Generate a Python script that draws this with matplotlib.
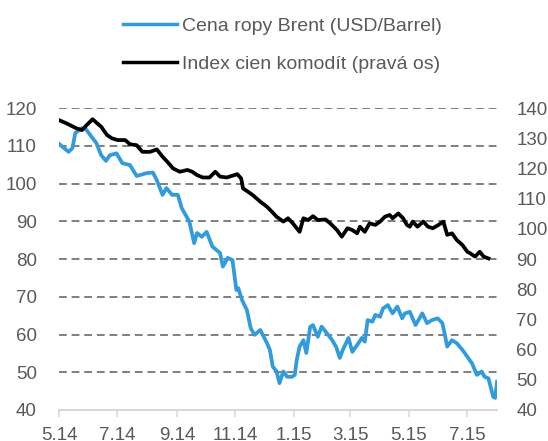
import matplotlib
matplotlib.use('Agg')
import matplotlib.pyplot as plt
import pandas as pd

plt.rcParams['font.family'] = ['Liberation Sans', 'DejaVu Sans']

# Brent oil price (USD/barrel), left axis
brent_dates = [
    '2014-05-01', '2014-05-11', '2014-05-15', '2014-05-18', '2014-05-25', '2014-05-29',
    '2014-06-09', '2014-06-14', '2014-06-19', '2014-06-23', '2014-06-30', '2014-07-06',
    '2014-07-14', '2014-07-21', '2014-08-01', '2014-08-07', '2014-08-11', '2014-08-17',
    '2014-08-21', '2014-08-27', '2014-09-02', '2014-09-06', '2014-09-14', '2014-09-19',
    '2014-09-22', '2014-09-27', '2014-10-02', '2014-10-08', '2014-10-16', '2014-10-19',
    '2014-10-24', '2014-10-29', '2014-11-02', '2014-11-04', '2014-11-08', '2014-11-13',
    '2014-11-17', '2014-11-21', '2014-11-27', '2014-12-04', '2014-12-07', '2014-12-10',
    '2014-12-14', '2014-12-17', '2014-12-21', '2014-12-25', '2014-12-30', '2015-01-02',
    '2015-01-04', '2015-01-07', '2015-01-11', '2015-01-14', '2015-01-16', '2015-01-18',
    '2015-01-21', '2015-01-26', '2015-01-30', '2015-02-04', '2015-02-10', '2015-02-14',
    '2015-02-18', '2015-02-21', '2015-02-27', '2015-03-03', '2015-03-08', '2015-03-13',
    '2015-03-16', '2015-03-19', '2015-03-24', '2015-03-27', '2015-04-01', '2015-04-04',
    '2015-04-09', '2015-04-14', '2015-04-19', '2015-04-24', '2015-04-27', '2015-05-02',
    '2015-05-08', '2015-05-15', '2015-05-20', '2015-05-25', '2015-05-31', '2015-06-05',
    '2015-06-08', '2015-06-10', '2015-06-15', '2015-06-20', '2015-06-26', '2015-07-01',
    '2015-07-06', '2015-07-11', '2015-07-16', '2015-07-19', '2015-07-23', '2015-07-28',
    '2015-07-30', '2015-08-01']
brent = [
    110.5, 108.4, 109.4, 113.4, 114.7, 114.4,
    110.7, 107.5, 106.0, 107.5, 108.0, 105.4,
    104.9, 102.0, 102.8, 102.9, 100.9, 97.0,
    98.8, 97.0, 97.0, 93.5, 89.9, 84.2,
    86.9, 85.9, 87.2, 83.3, 81.6, 78.0,
    80.3, 79.7, 71.8, 72.3, 69.1, 66.5,
    61.7, 59.9, 61.2, 57.7, 55.9, 51.5,
    50.2, 47.1, 50.2, 48.8, 48.8, 49.3,
    53.2, 56.8, 58.5, 55.1, 58.5, 62.0,
    62.5, 59.4, 62.1, 60.5, 58.5, 56.8,
    53.8, 55.9, 59.1, 55.4, 57.2, 59.1,
    58.1, 63.8, 63.4, 65.2, 64.7, 66.9,
    67.8, 65.6, 67.4, 64.3, 65.6, 66.0,
    62.5, 65.6, 63.0, 63.8, 64.3, 63.0,
    59.4, 56.8, 58.5, 57.7, 55.9, 54.1,
    52.3, 49.3, 50.2, 48.8, 48.4, 43.5,
    43.2, 47.5]

# commodity price index, right axis
index_dates = [
    '2014-05-01', '2014-05-09', '2014-05-19', '2014-05-25', '2014-05-30', '2014-06-05',
    '2014-06-10', '2014-06-14', '2014-06-20', '2014-06-25', '2014-07-01', '2014-07-09',
    '2014-07-14', '2014-07-21', '2014-07-27', '2014-08-04', '2014-08-11', '2014-08-17',
    '2014-08-22', '2014-08-28', '2014-09-04', '2014-09-12', '2014-09-17', '2014-09-22',
    '2014-09-28', '2014-10-05', '2014-10-11', '2014-10-16', '2014-10-23', '2014-10-28',
    '2014-11-03', '2014-11-07', '2014-11-09', '2014-11-14', '2014-11-19', '2014-11-27',
    '2014-12-04', '2014-12-09', '2014-12-14', '2014-12-21', '2014-12-26', '2014-12-31',
    '2015-01-07', '2015-01-11', '2015-01-16', '2015-01-21', '2015-01-26', '2015-02-03',
    '2015-02-08', '2015-02-15', '2015-02-20', '2015-02-26', '2015-03-03', '2015-03-08',
    '2015-03-11', '2015-03-16', '2015-03-21', '2015-03-27', '2015-04-01', '2015-04-06',
    '2015-04-11', '2015-04-14', '2015-04-20', '2015-04-25', '2015-04-29', '2015-05-02',
    '2015-05-05', '2015-05-10', '2015-05-16', '2015-05-21', '2015-05-26', '2015-06-01',
    '2015-06-06', '2015-06-10', '2015-06-15', '2015-06-20', '2015-06-26', '2015-07-01',
    '2015-07-04', '2015-07-09', '2015-07-14', '2015-07-18', '2015-07-23']
index = [
    136.0, 134.9, 133.3, 132.7, 134.4, 136.3,
    134.9, 133.8, 131.1, 130.0, 129.4, 129.4,
    128.0, 127.7, 125.5, 125.5, 126.3, 123.9,
    122.2, 120.0, 118.9, 119.5, 118.9, 117.8,
    117.0, 117.0, 118.9, 117.3, 117.0, 117.5,
    118.1, 116.7, 113.4, 112.3, 111.2, 109.0,
    107.3, 105.7, 104.0, 102.4, 103.5, 101.8,
    99.0, 103.5, 102.9, 104.2, 102.9, 103.1,
    101.8, 99.6, 97.4, 100.2, 99.6, 98.5,
    100.7, 99.0, 101.8, 101.3, 102.4, 104.0,
    104.6, 103.5, 105.1, 103.5, 101.3, 100.7,
    102.4, 100.7, 102.4, 100.7, 100.2, 101.3,
    102.4, 98.0, 98.5, 96.3, 94.6, 92.4,
    91.9, 90.8, 92.4, 90.8, 90.2]

tick_dates = ['2014-05-01', '2014-07-01', '2014-09-01', '2014-11-01',
              '2015-01-01', '2015-03-01', '2015-05-01', '2015-07-01']
tick_labels = ['5.14', '7.14', '9.14', '11.14', '1.15', '3.15', '5.15', '7.15']

label_brent = 'Cena ropy Brent (USD/Barrel)'
label_index = 'Index cien komodít (pravá os)'

blue = '#309BDD'
grey_txt = '#595959'

fig = plt.figure(figsize=(5.48, 4.41), dpi=100)
ax = fig.add_axes([0.1077, 0.0703, 0.7993, 0.6847])
ax2 = ax.twinx()

ax.plot(pd.to_datetime(brent_dates), brent, color=blue, lw=2.7, solid_joinstyle='round')
ax2.plot(pd.to_datetime(index_dates), index, color='black', lw=2.7, solid_joinstyle='round')

ax.set_xlim(pd.Timestamp('2014-05-01'), pd.Timestamp('2015-08-01'))
ax.set_ylim(40, 120)
ax2.set_ylim(40, 140)
ax.set_yticks(range(40, 121, 10))
ax2.set_yticks(range(40, 141, 10))

ax.set_xticks(pd.to_datetime(tick_dates))
ax.set_xticklabels(tick_labels)

for y in range(50, 121, 10):
    ax.axhline(y, color='#7f7f7f', lw=1.4, ls=(0, (4, 2.5)), zorder=0)

for a in (ax, ax2):
    for s in ['top', 'left', 'right', 'bottom']:
        a.spines[s].set_visible(False)
ax.spines['bottom'].set_visible(True)
ax.spines['bottom'].set_color('#d9d9d9')
ax.spines['bottom'].set_linewidth(1.5)

ax.tick_params(axis='y', length=0, pad=16, labelsize=13.5, labelcolor=grey_txt)
ax2.tick_params(axis='y', length=0, pad=14, labelsize=13.5, labelcolor=grey_txt)
ax.tick_params(axis='x', length=5, width=1.2, color='#d9d9d9', pad=7,
               labelsize=13.5, labelcolor=grey_txt)

h1, = ax.plot([], [], color=blue, lw=2.5)
h2, = ax2.plot([], [], color='black', lw=2.5)
fig.legend([h1, h2], [label_brent, label_index], loc='upper left',
           bbox_to_anchor=(123 / 548, 1 - 17 / 441), frameon=False,
           fontsize=14, labelcolor=grey_txt, handlelength=2.8,
           handletextpad=0.26, labelspacing=1.05, borderpad=0, borderaxespad=0)

plt.savefig('out.png', dpi=100)
